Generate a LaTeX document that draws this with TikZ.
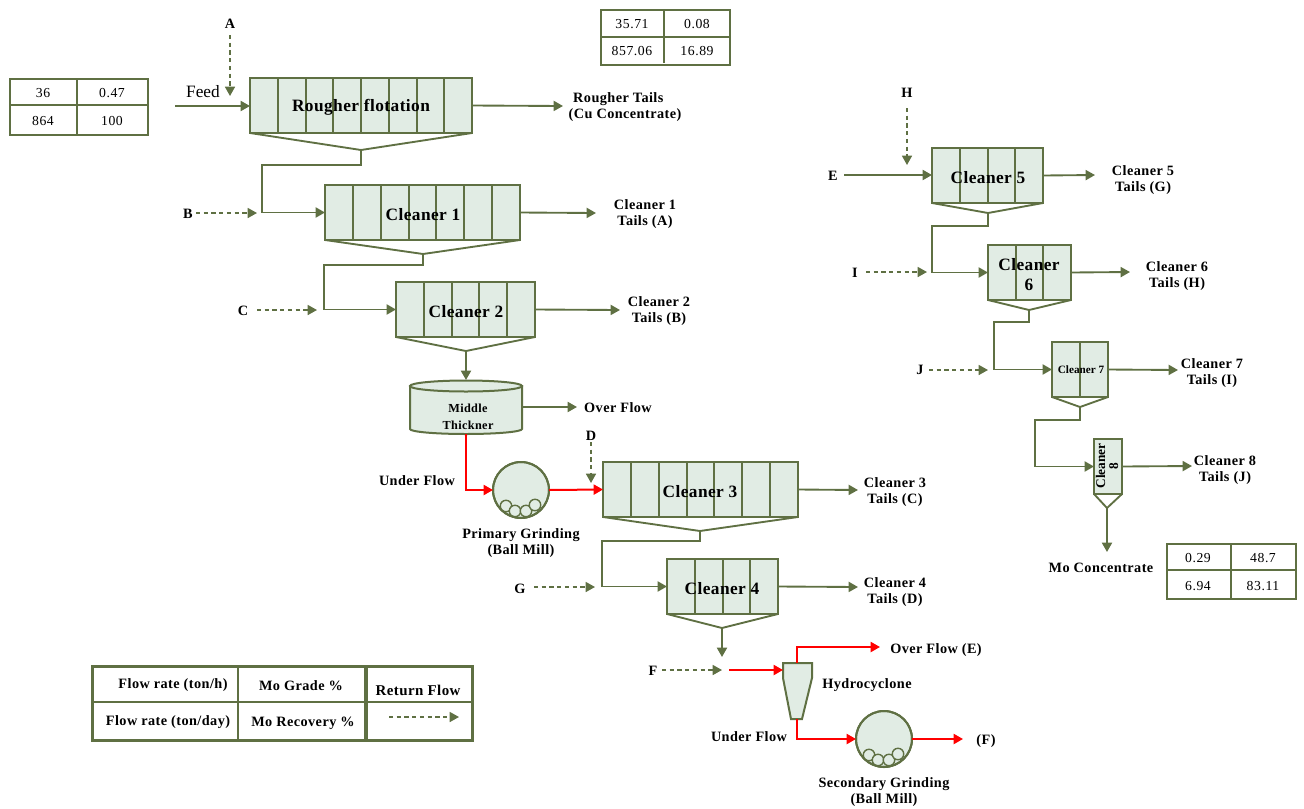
\documentclass[tikz,border=0pt]{standalone}
\usepackage{fontspec}
\setmainfont{Liberation Serif}
\newfontfamily\labfam[LetterSpace=3]{Liberation Serif}
\newfontfamily\numfam[LetterSpace=4]{Liberation Serif}
\newfontfamily\titfam[LetterSpace=2.5]{Liberation Serif}
\usetikzlibrary{arrows.meta,calc}
\definecolor{olv}{HTML}{5F7043}
\definecolor{pale}{HTML}{E1ECE4}
\tikzset{
  x=0.75pt,y=-0.75pt,
  tank/.style={draw=olv,fill=pale,line width=1.5pt,rectangle,inner sep=0pt,outer sep=0pt},
  mill/.style={draw=olv,fill=pale,line width=1.5pt,circle,inner sep=0pt,outer sep=0pt,minimum size=42pt},
  ball/.style={draw=olv,fill=pale,line width=1.05pt},
  flow/.style={draw=olv,line width=1.4pt,-{Triangle[length=7pt,width=7.5pt]}},
  pipe/.style={draw=olv,line width=1.4pt},
  ret/.style={draw=olv,line width=1.2pt,dash pattern=on 3.2pt off 2.6pt,-{Triangle[length=7pt,width=7.5pt]}},
  hot/.style={draw=red,line width=1.5pt,-{Triangle[length=7pt,width=7.5pt]}},
  lab/.style={font=\labfam\bfseries\fontsize{10.7pt}{11.6pt}\selectfont,align=center,inner sep=0pt,yshift=-0.75pt},
  title/.style={font=\titfam\bfseries\fontsize{13pt}{14pt}\selectfont,align=center,inner sep=0pt,yshift=-1pt},
  num/.style={font=\numfam\fontsize{10.3pt}{11pt}\selectfont,inner sep=0pt,yshift=-0.75pt},
  tabline/.style={draw=olv,line width=1.4pt},
  legline/.style={draw=olv,line width=1.2pt},
  legthick/.style={draw=olv,line width=2.6pt},
}
% name, x1, y1, x2, y2, cells, tip y, tip x
\newcommand{\flot}[8]{%
  \node[tank,minimum width={(#4-#2)*0.75pt},minimum height={(#5-#3)*0.75pt},anchor=north west] (#1) at (#2,#3) {};
  \foreach \k in {1,...,#6}{%
    \ifnum\k<#6\relax
      \draw[olv,line width=1.5pt] ({#2+(#4-#2)*\k/#6},#3) -- ({#2+(#4-#2)*\k/#6},#5);
    \fi}
  \coordinate (#1-tip) at (#8,#7);
  \draw[pipe] (#1.south west) -- (#1-tip) -- (#1.south east);
}
\newcommand{\cyball}[2]{\draw[ball] (#1,#2) circle (4.3pt);}
\newcommand{\millballs}[2]{%
  \begin{scope}
  \clip (#1,#2) circle (28);
  \cyball{#1-15}{#2+16}\cyball{#1-6}{#2+21}\cyball{#1+5}{#2+21}\cyball{#1+14}{#2+15}
  \end{scope}
  \draw[olv,line width=1.5pt] (#1,#2) circle (28);
}
\begin{document}
\begin{tikzpicture}
\useasboundingbox (0,0) rectangle (1304,808);

% ---------- units
\flot{rough}{250}{78}{472}{133}{8}{150}{361}
\flot{cl1}{325}{185}{520}{240}{7}{254}{423}
\flot{cl2}{396}{282}{535}{337}{5}{351}{466}
\flot{cl3}{603}{462}{798}{517}{7}{531}{700}
\flot{cl4}{667}{559}{778}{614}{4}{628}{722}
\flot{cl5}{932}{148}{1043}{203}{4}{213}{988}
\flot{cl6}{988}{245}{1071}{300}{3}{310}{1029}
\flot{cl7}{1052}{342}{1108}{397}{2}{407}{1080}
\flot{cl8}{1094}{439}{1122}{494}{1}{508}{1107}

\node[title] (t0) at (361,106) {Rougher flotation};
\node[title] (t1) at (423,213) {Cleaner 1};
\node[title] (t2) at (466,310) {Cleaner 2};
\node[title] (t3) at (700,490) {Cleaner 3};
\node[title] (t4) at (722,587) {Cleaner 4};
\node[title] (t5) at (988,176) {Cleaner 5};
\node[title] (t6) at (1029,273) {Cleaner\\[1pt]6};
\node[font=\bfseries\fontsize{8.4pt}{9pt}\selectfont,inner sep=0pt] (t7) at (1081,370) {Cleaner 7};
\node[font=\bfseries\fontsize{10pt}{9.8pt}\selectfont,align=center,inner sep=0pt,rotate=90] (t8) at (1107,466) {Cleaner\\8};

% ---------- thickener
\path[tank] (410,386) -- (410,429) arc[start angle=180,end angle=0,x radius=56,y radius=5] -- (522,386) -- cycle;
\draw[tank] (466,386) ellipse [x radius=56,y radius=5.5];
\node[lab,font=\labfam\bfseries\fontsize{9.2pt}{12.6pt}\selectfont] (thklab) at (468,416) {Middle\\Thickner};
\coordinate (thk-top) at (466,380);
\coordinate (thk-e) at (522,407);
\coordinate (thk-s) at (466,434);

% ---------- mills
\node[mill] (m1) at (521,490) {};
\millballs{521}{490}
\node[mill] (m2) at (884,739) {};
\millballs{884}{739}

% ---------- hydrocyclone
\path[tank] (783,663) -- (812,663) -- (812,678) -- (802,719) -- (791,719) -- (783,678) -- cycle;
\coordinate (hc-w) at (783,670);
\coordinate (hc-n) at (797,663);
\coordinate (hc-s) at (797,719);

% ---------- free ends
\coordinate (feedS) at (175,106);
\coordinate (aS) at (230,35); \coordinate (aE) at (230,96);
\coordinate (roughE) at (563,106);
\coordinate (bS) at (196,213); \coordinate (bE) at (257,213);
\coordinate (cl1E) at (596,213);
\coordinate (cS) at (257,310); \coordinate (cE) at (317,310);
\coordinate (cl2E) at (620,310);
\coordinate (ofE) at (577,407);
\coordinate (dS) at (591,442); \coordinate (dE) at (591,483);
\coordinate (cl3E) at (858,490);
\coordinate (gS) at (534,587); \coordinate (gE) at (595,587);
\coordinate (cl4E) at (858,587);
\coordinate (cl4D) at (722,657);
\coordinate (fS) at (662,670); \coordinate (fE) at (722,670);
\coordinate (rS) at (729,670);
\coordinate (hoE) at (880,647);
\coordinate (m2E) at (963,739);
\coordinate (eS) at (844,175);
\coordinate (hS) at (907,108); \coordinate (hE) at (907,165);
\coordinate (cl5E) at (1095,175);
\coordinate (iS) at (866,272); \coordinate (iE) at (927,272);
\coordinate (cl6E) at (1130,272);
\coordinate (jS) at (929,370); \coordinate (jE) at (988,370);
\coordinate (cl7E) at (1178,370);
\coordinate (cl8E) at (1192,466);
\coordinate (cl8D) at (1107,552);

% ---------- connectors
\draw[flow] (feedS) -- (feedS -| rough.west);
\draw[ret] (aS) -- (aE);
\draw[flow] (rough.east) -- (roughE);
\draw[flow] (rough-tip) -- (361,165) -- (262,165) |- (cl1.west);
\draw[ret] (bS) -- (bE);
\draw[flow] (cl1.east) -- (cl1E);
\draw[flow] (cl1-tip) -- (423,265) -- (324,265) |- (cl2.west);
\draw[ret] (cS) -- (cE);
\draw[flow] (cl2.east) -- (cl2E);
\draw[flow] (cl2-tip) -- (thk-top);
\draw[flow] (thk-e) -- (ofE);
\draw[hot] (thk-s) |- (m1.west);
\draw[hot] (m1.east) -- (cl3.west);
\draw[ret] (dS) -- (dE);
\draw[flow] (cl3.east) -- (cl3E);
\draw[flow] (cl3-tip) -- (700,541) -- (602,541) |- (cl4.west);
\draw[ret] (gS) -- (gE);
\draw[flow] (cl4.east) -- (cl4E);
\draw[flow] (cl4-tip) -- (cl4D);
\draw[ret] (fS) -- (fE);
\draw[hot] (rS) -- (hc-w);
\draw[hot] (hc-n) |- (hoE);
\draw[hot] (hc-s) |- (m2.west);
\draw[hot] (m2.east) -- (m2E);
\draw[flow] (eS) -- (eS -| cl5.west);
\draw[ret] (hS) -- (hE);
\draw[flow] (cl5.east) -- (cl5E);
\draw[flow] (cl5-tip) -- (988,226) -- (932,226) |- (cl6.west);
\draw[ret] (iS) -- (iE);
\draw[flow] (cl6.east) -- (cl6E);
\draw[flow] (cl6-tip) -- (1029,322) -- (994,322) |- (cl7.west);
\draw[ret] (jS) -- (jE);
\draw[flow] (cl7.east) -- (cl7E);
\draw[flow] (cl7-tip) -- (1080,420) -- (1035,420) |- (cl8.west);
\draw[flow] (cl8.east) -- (cl8E);
\draw[flow] (cl8-tip) -- (cl8D);

% ---------- labels
\node[font=\fontsize{13pt}{14pt}\selectfont,inner sep=0pt] (lfeed) at (203,92) {Feed};
\node[lab] (la) at (230,23) {A};
\node[lab] (lb) at (188,213) {B};
\node[lab] (lc) at (243,310) {C};
\node[lab] (ld) at (591,435) {D};
\node[lab] (le) at (833,175) {E};
\node[lab] (lf) at (653,670) {F};
\node[lab] (lg) at (520,588) {G};
\node[lab] (lh) at (907,92) {H};
\node[lab] (li) at (855,272) {I};
\node[lab] (lj) at (920,369) {J};
\node[lab] (l1) at (625,106) {Rougher Tails\hspace*{10pt}\\(Cu Concentrate)};
\node[lab] (l2) at (645,213) {Cleaner 1\\Tails (A)};
\node[lab] (l3) at (659,310) {Cleaner 2\\Tails (B)};
\node[lab] (l4) at (895,491) {Cleaner 3\\Tails (C)};
\node[lab] (l5) at (895,591) {Cleaner 4\\Tails (D)};
\node[lab] (l6) at (1143,179) {Cleaner 5\\Tails (G)};
\node[lab] (l7) at (1177,275) {Cleaner 6\\Tails (H)};
\node[lab] (l8) at (1212,372) {Cleaner 7\\Tails (I)};
\node[lab] (l9) at (1225,469) {Cleaner 8\\Tails (J)};
\node[lab] (l10) at (618,407) {Over Flow};
\node[lab] (l11) at (417,480) {Under Flow};
\node[lab] (l12) at (521,542) {Primary Grinding\\(Ball Mill)};
\node[lab] (l13) at (936,649) {Over Flow (E)};
\node[lab] (l14) at (867,684) {Hydrocyclone};
\node[lab] (l15) at (749,736) {Under Flow};
\node[lab] (l16) at (986,740) {(F)};
\node[lab] (l17) at (884,791) {Secondary Grinding\\(Ball Mill)};
\node[lab] (l18) at (1101,567) {Mo Concentrate};

% ---------- data tables
\node[tabline,rectangle,minimum width=103.5pt,minimum height=42pt,anchor=north west,inner sep=0pt] (tbA) at (9,78) {};
\draw[tabline] (77,78) -- (77,134) (9,105) -- (147,105);
\node[num] (a1) at (43,92) {36};
\node[num] (a2) at (112,92) {0.47};
\node[num] (a3) at (43,120) {864};
\node[num] (a4) at (112,120) {100};

\node[tabline,rectangle,minimum width=96.75pt,minimum height=41pt,anchor=north west,inner sep=0pt] (tbB) at (600,9) {};
\draw[tabline] (664,9) -- (664,63) (600,37) -- (729,37);
\node[num] (b1) at (632,23) {35.71};
\node[num] (b2) at (697,23) {0.08};
\node[num] (b3) at (632,50) {857.06};
\node[num] (b4) at (697,50) {16.89};

\node[tabline,rectangle,minimum width=96.75pt,minimum height=41.25pt,anchor=north west,inner sep=0pt] (tbC) at (1166,543) {};
\draw[tabline] (1231,543) -- (1231,598) (1166,570) -- (1295,570);
\node[num] (c1) at (1198,557) {0.29};
\node[num] (c2) at (1263,557) {48.7};
\node[num] (c3) at (1198,585) {6.94};
\node[num] (c4) at (1263,585) {83.11};

% ---------- legend
\draw[legline] (92,702) -- (472,702) (238,666) -- (238,739);
\draw[legthick] (366,666) -- (366,739);
\node[legthick,rectangle,minimum width=285pt,minimum height=55.5pt,anchor=north west,inner sep=0pt] (leg) at (91,665) {};
\node[lab] (g1) at (173,684) {Flow rate (ton/h)};
\node[lab] (g2) at (168,721) {Flow rate (ton/day)};
\node[lab] (g3) at (301,685) {Mo Grade \%};
\node[lab] (g4) at (303,722) {Mo Recovery \%};
\node[lab,font=\labfam\bfseries\fontsize{11.2pt}{11pt}\selectfont] (g5) at (418,689) {Return Flow};
\coordinate (gS1) at (389,717); \coordinate (gE1) at (459,717);
\draw[ret] (gS1) -- (gE1);
\end{tikzpicture}
\end{document}
